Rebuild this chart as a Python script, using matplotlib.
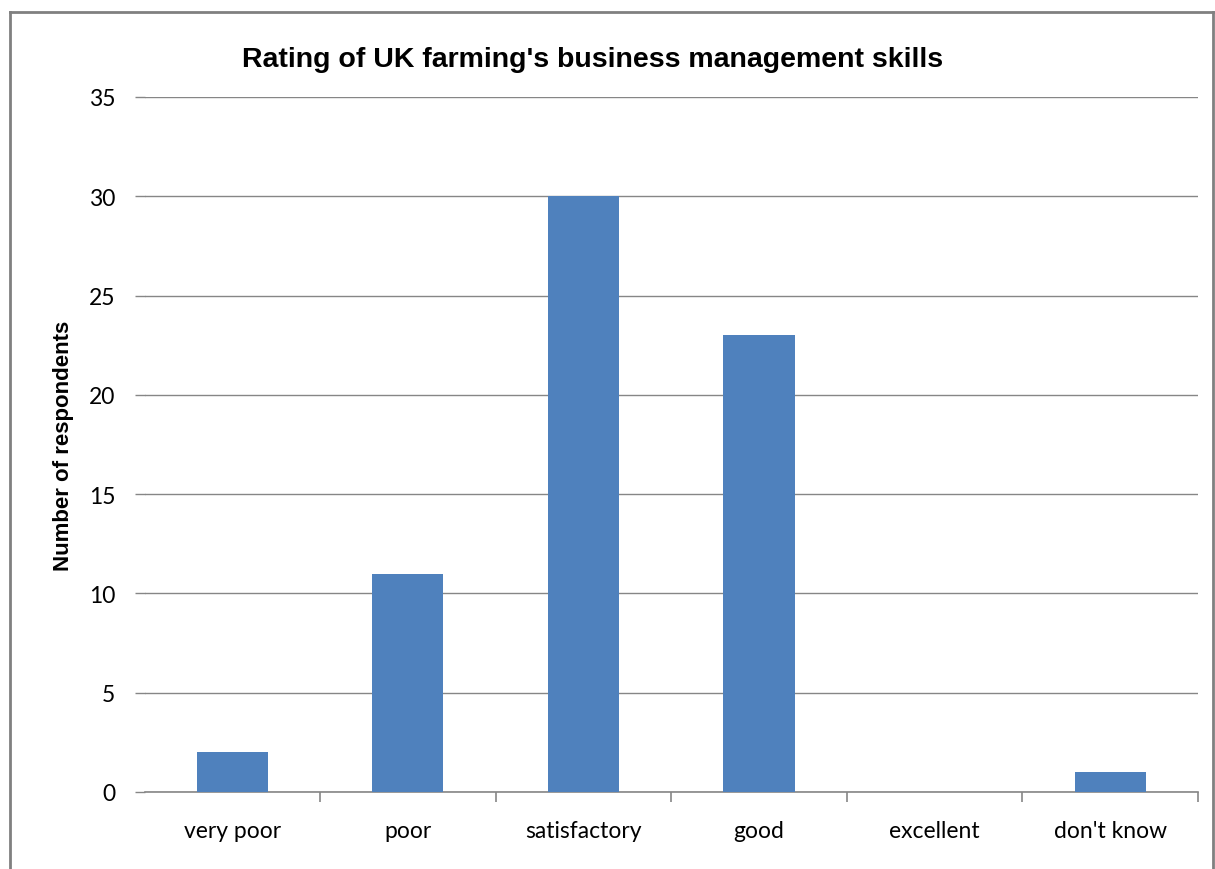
import matplotlib
matplotlib.use("Agg")
import matplotlib.pyplot as plt
from matplotlib.lines import Line2D
from matplotlib.ticker import FixedLocator

# data
categories = ["very poor", "poor", "satisfactory", "good", "excellent", "don't know"]
respondents = [2, 11, 30, 23, 0, 1]
y_ticks = [0, 5, 10, 15, 20, 25, 30, 35]

bar_color = "#4F81BD"
grid_color = "#868686"
label_font = ["Lato", "DejaVu Sans"]

fig = plt.figure(figsize=(12.15, 8.7), dpi=100)
ax = fig.add_axes([144.5 / 1215, 1 - 793 / 870, (1198 - 144.5) / 1215, (793 - 98) / 870])

x = list(range(len(categories)))
ax.bar(x, respondents, width=0.405, color=bar_color, zorder=3)

ax.set_xlim(-0.5, len(categories) - 0.5)
ax.set_ylim(0, 35)
ax.set_yticks(y_ticks)
ax.yaxis.grid(True, color=grid_color, linewidth=1, zorder=0)
ax.set_axisbelow(True)

# category labels, tick marks at the category boundaries
ax.set_xticks(x)
ax.set_xticklabels(categories, fontsize=16.5, family=label_font)
ax.tick_params(axis="x", which="major", length=0, pad=20)
ax.xaxis.set_minor_locator(FixedLocator([i + 0.5 for i in x]))
ax.tick_params(axis="x", which="minor", length=7, width=1.2, color=grid_color)
ax.tick_params(axis="y", length=7, width=1, color=grid_color, pad=14, labelsize=16.5)
for t in ax.get_yticklabels():
    t.set_family(label_font)

for side in ["top", "right", "left"]:
    ax.spines[side].set_visible(False)
ax.spines["bottom"].set_color(grid_color)
ax.spines["bottom"].set_linewidth(1.2)

ax.set_ylabel("Number of respondents", fontsize=16, fontweight="bold",
              family=["Liberation Sans", "DejaVu Sans"], labelpad=11)

fig.text(593 / 1215, 1 - 60 / 870, "Rating of UK farming's business management skills",
         ha="center", va="center", fontsize=20.5, fontweight="bold",
         family=["Liberation Sans", "DejaVu Sans"])

# outer chart frame
frame_kw = dict(color="#808080", linewidth=2, transform=fig.transFigure)
fig.add_artist(Line2D([10 / 1215, 10 / 1215], [0, 1 - 13 / 870], **frame_kw))
fig.add_artist(Line2D([10 / 1215, 1213 / 1215], [1 - 13 / 870, 1 - 13 / 870], **frame_kw))
fig.add_artist(Line2D([1213 / 1215, 1213 / 1215], [0, 1 - 13 / 870], **frame_kw))

fig.savefig("out.png", dpi=100)
